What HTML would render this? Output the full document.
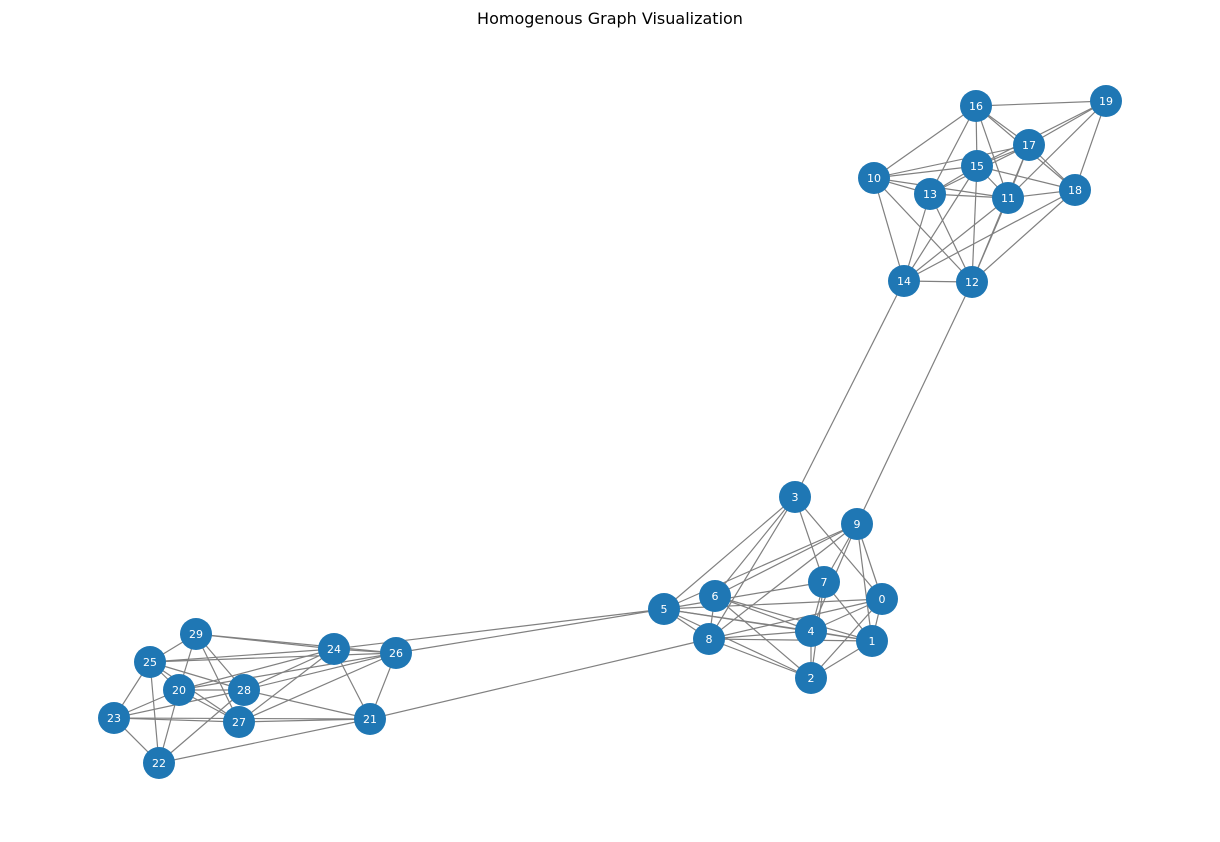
<!DOCTYPE html>
<html><head><meta charset="utf-8"><style>
html,body{margin:0;padding:0;background:#fff;}
svg{display:block;}
text{font-family:"DejaVu Sans","Liberation Sans",sans-serif;}
</style></head><body>
<svg id="chart" width="1220" height="842" viewBox="0 0 1220 842">
<text x="610" y="24" text-anchor="middle" font-size="16" fill="#000">Homogenous Graph Visualization</text>
<g id="edges"></g>
<g id="nodes"></g>
</svg>
<script>
const nodeIds=[0,1,2,3,4,5,6,7,8,9,10,11,12,13,14,15,16,17,18,19,20,21,22,23,24,25,26,27,28,29];
const nodeX=[882,872,811,795,811,664,715,824,709,857,874,1008,972,930,904,977,976,1029,1075,1106,179,370,159,114,334,150,396,239,244,196];
const nodeY=[599,641,678,497,631,609,596,582,639,524,178,198,282,194,281,166,106,145,190,101,690,719,763,718,649,662,653,722,690,634];
const edgeSrc=[3,3,3,3,3,9,9,9,9,9,9,9,9,3,7,7,7,7,0,0,0,0,0,6,6,6,6,5,5,5,5,5,5,8,8,8,8,4,4,1,
16,16,16,16,16,16,16,19,19,19,19,17,17,17,17,17,17,15,15,15,15,15,15,10,10,10,10,13,13,13,11,11,11,18,18,14,
29,29,29,29,29,29,25,25,25,25,25,25,25,20,20,20,20,20,20,28,28,28,28,27,27,27,27,23,23,23,22,24,24,26];
const edgeDst=[5,6,8,7,0,5,6,8,7,4,0,1,12,14,5,4,2,1,5,8,4,2,1,8,4,1,2,4,1,8,2,26,24,4,1,2,21,2,1,2,
19,10,13,15,11,17,18,17,15,11,18,13,10,11,18,12,15,10,13,11,18,12,14,13,11,14,12,11,14,12,18,14,12,14,12,12,
25,20,28,27,24,26,24,26,20,28,27,23,22,24,26,28,27,23,22,24,26,21,22,24,26,23,21,21,28,22,21,26,21,21];
const NS="http://www.w3.org/2000/svg";
const eg=document.getElementById('edges'), ng=document.getElementById('nodes');
function px(i){return nodeX[i];} function py(i){return nodeY[i];}
for(let k=0;k<edgeSrc.length;k++){
  const l=document.createElementNS(NS,'line');
  l.setAttribute('x1',px(edgeSrc[k]));l.setAttribute('y1',py(edgeSrc[k]));
  l.setAttribute('x2',px(edgeDst[k]));l.setAttribute('y2',py(edgeDst[k]));
  l.setAttribute('stroke','#808080');l.setAttribute('stroke-width','1.2');
  
  
  eg.appendChild(l);
}
for(let i=0;i<nodeIds.length;i++){
  const g=document.createElementNS(NS,'g');
  
  
  const c=document.createElementNS(NS,'circle');
  c.setAttribute('cx',px(i));c.setAttribute('cy',py(i));c.setAttribute('r','16');
  c.setAttribute('fill','#1f77b4');
  
  
  const t=document.createElementNS(NS,'text');
  t.setAttribute('x',px(i));t.setAttribute('y',py(i)+4);
  t.setAttribute('text-anchor','middle');t.setAttribute('font-size','11');t.setAttribute('fill','#fff');
  
  
  t.textContent=nodeIds[i];
  g.appendChild(c);g.appendChild(t);ng.appendChild(g);
}
</script>
</body></html>
